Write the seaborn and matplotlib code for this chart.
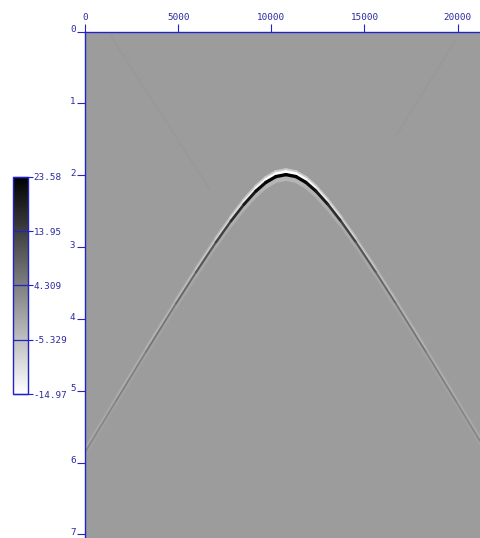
import numpy as np
import matplotlib
matplotlib.use("Agg")
import matplotlib.pyplot as plt
from matplotlib.transforms import ScaledTranslation
import seaborn as sns

# Picks
offset_picks = [0, 1663, 3272, 4882, 5955, 7028, 7832, 8530, 9174, 9710, 10247, 10783,
                11319, 11856, 12392, 13036, 13734, 14538, 15611, 16684, 18294, 19903, 21191]
time_picks = [5.855, 5.142, 4.458, 3.787, 3.352, 2.933, 2.639, 2.407, 2.221, 2.100, 2.019, 1.992,
              2.019, 2.100, 2.221, 2.407, 2.639, 2.933, 3.352, 3.787, 4.458, 5.142, 5.694]
amp_picks = [3, 4, 5, 7, 9, 12, 15, 18.5, 21, 23, 23.5, 23.5,
             23.5, 23, 21, 18.5, 15, 12, 9, 7, 5, 4, 3.2]
artifact_left_offset = [1350, 6700]
artifact_left_time = [0.05, 2.2]
artifact_right_offset = [19900, 16700]
artifact_right_time = [0.12, 1.45]
artifact_amp = 0.4

time_ticks = [0, 1, 2, 3, 4, 5, 6, 7]
offset_ticks = [0, 5000, 10000, 15000, 20000]
cbar_ticks = [23.58, 13.95, 4.309, -5.329, -14.97]
cbar_labels = ["23.58", "13.95", "4.309", "-5.329", "-14.97"]
vmin, vmax = -14.97, 23.58

dx, dt = 100, 0.05
section = np.zeros((141, 212))  # zero-amplitude section

W, H = 480, 538
LINE = "#2222cc"
TEXT = "#2a2a9e"
plt.rcParams["font.family"] = ["DejaVu Sans Mono", "DejaVu Sans"]
plt.rcParams["font.size"] = 6.7

fig = plt.figure(figsize=(W / 100, H / 100), dpi=100, facecolor="white")
ax = fig.add_axes([85 / W, 0, (W - 85) / W, (H - 31.5) / H])
cax = fig.add_axes([13 / W, (H - 394) / H, 15 / W, 217 / H])

sns.heatmap(section, ax=ax, cbar_ax=cax, cmap="gray_r", vmin=vmin, vmax=vmax,
            xticklabels=False, yticklabels=False,
            cbar_kws={"ticks": cbar_ticks})

cmap = plt.get_cmap("gray_r")
norm = plt.Normalize(vmin, vmax)
X = np.array(offset_picks) / dx
T = np.array(time_picks) / dt
A = np.array(amp_picks, dtype=float)


def lobe(shift, factor, width):
    for i in range(len(X) - 1):
        a = 0.5 * (A[i] + A[i + 1])
        ax.plot(X[i:i + 2], T[i:i + 2] + shift / dt, color=cmap(norm(a * factor)),
                lw=width(a), solid_capstyle="round", solid_joinstyle="round")


# soft outer lobes, upper lobe, core
lobe(0.058, -0.16, lambda a: 1.4 + a / 14)
lobe(-0.058, -0.3, lambda a: 1.2 + a / 12)
lobe(-0.040, -0.62, lambda a: 0.8 + a / 18)
lobe(0.0, 1.0, lambda a: 0.8 + a / 15)

for ox, ot in ((artifact_left_offset, artifact_left_time),
               (artifact_right_offset, artifact_right_time)):
    ax.plot(np.array(ox) / dx, np.array(ot) / dt, color=cmap(norm(artifact_amp)), lw=1.4, zorder=1)

ax.set_xlim(0, 212)
ax.set_ylim(141, 0)
ax.xaxis.tick_top()
ax.set_xticks(np.array(offset_ticks) / dx)
ax.set_xticklabels([str(v) for v in offset_ticks], rotation=0, color=TEXT)
ax.set_yticks(np.array(time_ticks) / dt)
ax.set_yticklabels([str(v) for v in time_ticks], rotation=0, color=TEXT)
ax.tick_params(axis="both", length=5.8, width=0.8, color=LINE, pad=1.0)
lift = ScaledTranslation(0, 2 / 72, fig.dpi_scale_trans)
for lab in ax.get_yticklabels():
    lab.set_transform(lab.get_transform() + lift)
for name in ("top", "left"):
    ax.spines[name].set_visible(True)
    ax.spines[name].set_color(LINE)
    ax.spines[name].set_linewidth(1.0)
    ax.spines[name].set_zorder(5)

cbar = ax.collections[0].colorbar
cbar.set_ticks(cbar_ticks)
cbar.set_ticklabels(cbar_labels)
cax.tick_params(axis="y", length=3.6, width=0.8, color=LINE, labelcolor=TEXT, pad=0.6, labelsize=6.7)
cax.hlines(cbar_ticks, 0, 1, color=LINE, lw=0.9, zorder=6, clip_on=False)
cbar.outline.set_edgecolor(LINE)
cbar.outline.set_linewidth(1.0)

fig.savefig("out.png", dpi=100, facecolor="white")
